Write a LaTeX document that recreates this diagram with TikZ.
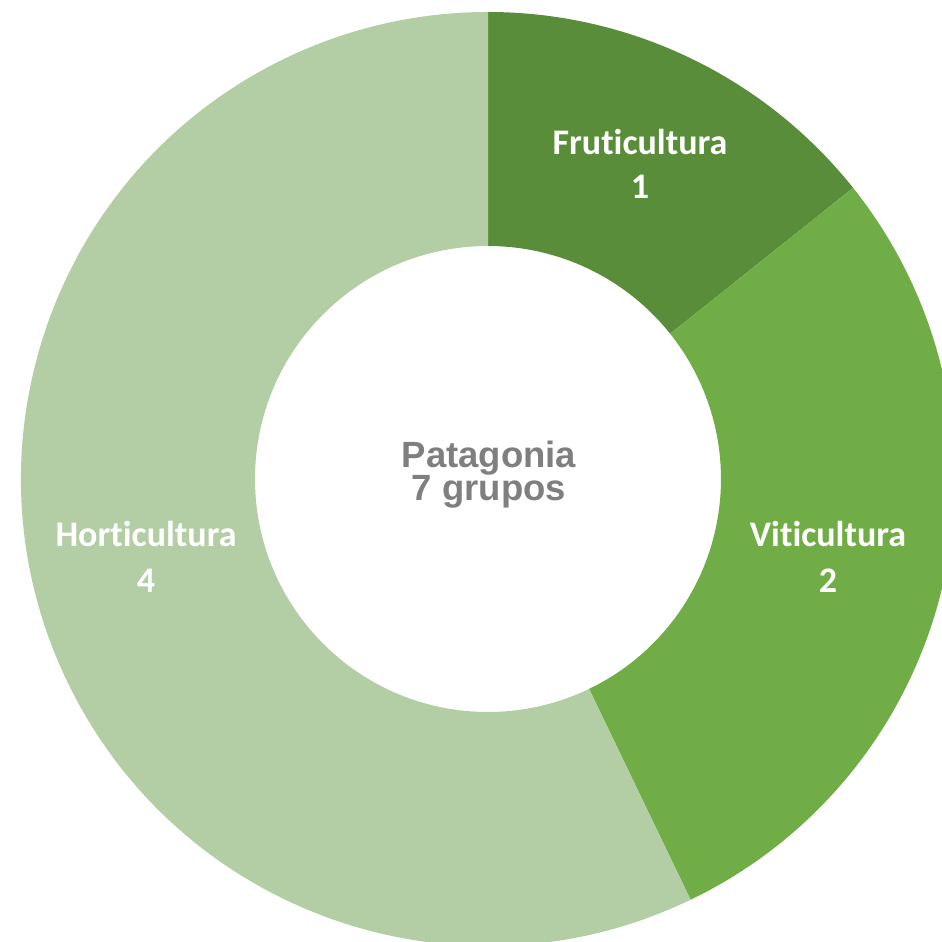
\documentclass[tikz,border=0pt]{standalone}
\usepackage{fontspec}
\newfontfamily\labfont[Ligatures=NoCommon]{Carlito}
\newfontfamily\midfont{Liberation Sans}
\usepackage{tikz}
\usetikzlibrary{positioning}
\usepackage{xcolor}

\definecolor{frutgreen}{HTML}{5A8D3A}
\definecolor{vitigreen}{HTML}{70AD47}
\definecolor{hortgreen}{HTML}{B3CDA5}
\definecolor{midgray}{HTML}{7F7F7F}

\begin{document}
\begin{tikzpicture}[x=1pt, y=1pt,
  lab/.style = {text=white, inner sep=0pt, anchor=base, font=\labfont\bfseries\fontsize{36}{44}\selectfont},
  mid/.style = {text=midgray, inner sep=0pt, anchor=base, font=\midfont\bfseries\fontsize{36.5}{33}\selectfont}]
\useasboundingbox (-488,-463) rectangle (454,479);
\clip (-488,-463) rectangle (454,479);

% donut slices: 1, 2 and 4 out of 7
\fill[frutgreen] (90:467pt) arc[start angle=90, end angle=38.571, radius=467pt]
  -- (38.571:233pt) arc[start angle=38.571, end angle=90, radius=233pt] -- cycle;
\fill[vitigreen] (38.571:467pt) arc[start angle=38.571, end angle=-64.286, radius=467pt]
  -- (-64.286:233pt) arc[start angle=-64.286, end angle=38.571, radius=233pt] -- cycle;
\fill[hortgreen] (-64.286:467pt) arc[start angle=-64.286, end angle=-270, radius=467pt]
  -- (90:233pt) arc[start angle=90, end angle=295.714, radius=233pt] -- cycle;

\node[lab] (frut) at (152,324) {Fruticultura};
\node[lab] (frutn) at ([yshift=-44pt]frut.base) {1};
\node[lab] (viti) at (340,-68) {Viticultura};
\node[lab] (vitin) at ([yshift=-45pt]viti.base) {2};
\node[lab] (hort) at (-342,-68) {Horticultura};
\node[lab] (hortn) at ([yshift=-45pt]hort.base) {4};

\node[mid] (pat) at (1,11) {Patagonia};
\node[mid] (grp) at ([yshift=-33pt]pat.base) {7 grupos};
\end{tikzpicture}
\end{document}
